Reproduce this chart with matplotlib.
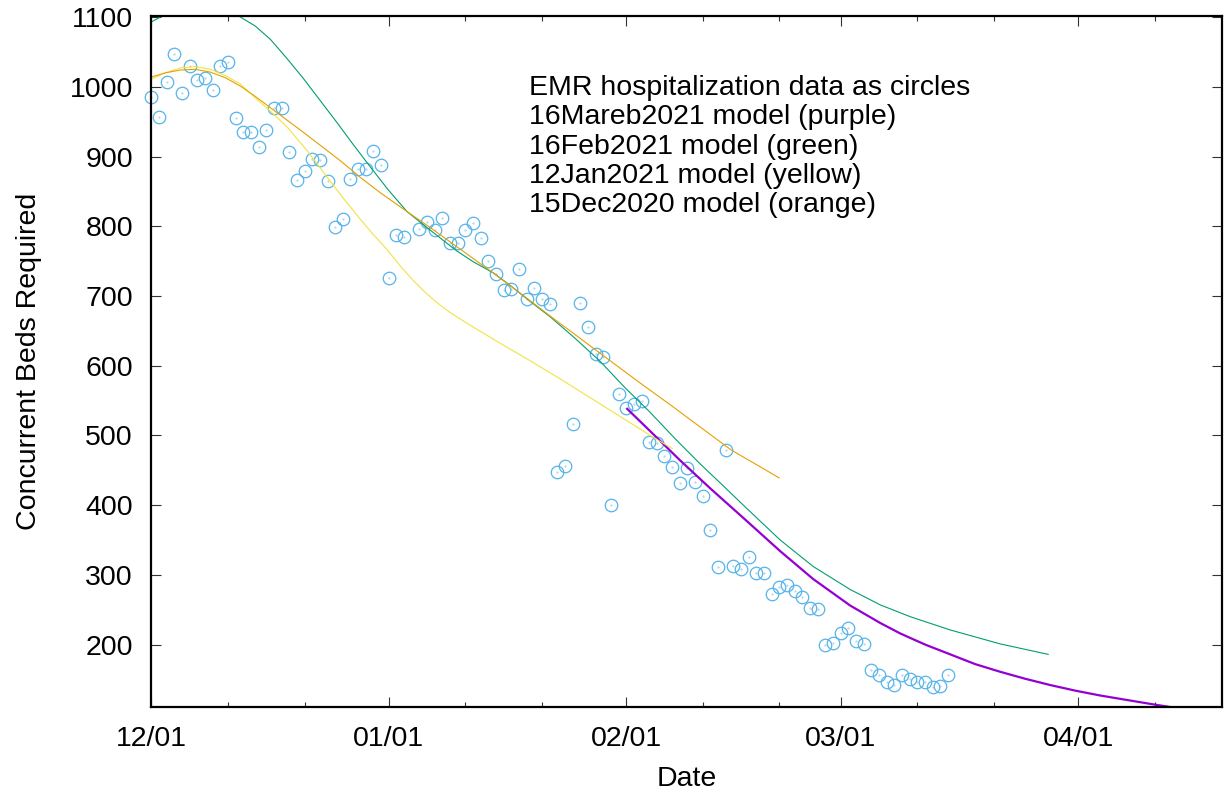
import numpy as np
import matplotlib
matplotlib.use('Agg')
import matplotlib.pyplot as plt
import matplotlib.dates as mdates

plt.rcParams['font.family'] = ['Liberation Sans', 'DejaVu Sans']

start = mdates.date2num(np.datetime64('2020-12-01'))

# EMR hospitalization, one value per day starting 12/01 (nan = no report)
hosp = [985, 956, 1007, 1047, 991, 1030, 1009, 1013, 996, 1030,
        1036, 955, 935, 935, 914, 938, 970, 969, 906, 866,
        879, 897, 895, 865, 799, 810, 868, 882, 882, 908,
        888, 726, 788, 785, np.nan, 796, 806, 794, 812, 776,
        776, 795, 805, 783, 750, 732, 708, 710, 738, 695,
        711, 696, 689, 448, 456, 516, 690, 656, 617, 613,
        400, 560, 539, 545, 550, 491, 489, 470, 455, 432,
        453, 433, 413, 365, 311, 479, 313, 309, 326, 303,
        302, 273, 283, 285, 277, 268, 252, 251, 200, 203,
        216, 224, 205, 201, 164, 156, 147, 142, 156, 151,
        146, 146, 139, 140, 156]

# model curves: days after 12/01 and beds
mar_day = [62.14, 65.14, 69.06, 72.98, 77.77, 82.11, 86.42, 91.25, 95.17, 97.78,
           101.04, 104.31, 107.57, 110.84, 114.10, 117.36, 120.63, 123.89, 127.15, 130.42,
           133.29, 136.29]
mar_val = [538, 506, 464, 424, 377, 334, 294, 256, 231, 216,
           200, 186, 172, 161, 151, 142, 134, 127, 121, 115,
           110, 106]

feb_day = [0.0, 1.17, 3.79, 6.40, 9.01, 11.62, 13.58, 15.54, 17.75, 19.84,
           22.06, 24.28, 26.37, 28.59, 30.94, 33.38, 35.77, 37.73, 39.82, 42.04,
           44.65, 46.87, 49.48, 52.09, 55.35, 58.62, 61.88, 65.14, 68.41, 71.67,
           74.93, 77.77, 82.11, 86.42, 91.25, 95.17, 99.09, 104.31, 110.84, 117.10]
feb_val = [1093, 1100, 1115, 1122, 1118, 1100, 1087, 1068, 1040, 1012,
           980, 948, 917, 885, 852, 821, 800, 783, 765, 749,
           733, 715, 692, 670, 639, 606, 568, 533, 495, 459,
           425, 395, 350, 312, 279, 257, 240, 221, 201, 186]

jan_day = [0.0, 1.83, 3.79, 5.74, 7.70, 9.66, 11.62, 13.58, 15.54, 17.75,
           20.37, 22.98, 25.07, 27.28, 28.98, 30.81, 32.51, 34.20, 35.77, 37.34,
           39.03, 41.64, 45.56, 49.48, 53.39, 58.62, 62.53, 65.14, 68.02]
jan_val = [1011, 1020, 1027, 1029, 1025, 1016, 1004, 984, 965, 942,
           908, 870, 840, 810, 788, 766, 743, 722, 705, 690,
           676, 658, 632, 607, 581, 545, 518, 500, 481]

dec_day = [0.0, 1.83, 3.79, 5.74, 7.70, 9.66, 11.62, 13.58, 15.54, 17.49,
           19.45, 22.06, 24.67, 27.28, 29.90, 33.38, 36.42, 40.34, 44.26, 48.17,
           52.09, 56.01, 59.92, 63.84, 67.75, 71.67, 75.72, 79.50, 81.98]
dec_val = [1014, 1020, 1024, 1025, 1021, 1013, 1001, 986, 970, 954,
           938, 916, 894, 870, 848, 821, 798, 767, 736, 704,
           671, 639, 607, 575, 544, 512, 479, 455, 439]

notes = ['EMR hospitalization data as circles',
         '16Mareb2021 model (purple)',
         '16Feb2021 model (green)',
         '12Jan2021 model (yellow)',
         '15Dec2020 model (orange)']

fig = plt.figure(figsize=(12.25, 7.94), dpi=100)
ax = fig.add_axes([151/1225, 1 - 707/794, 1071/1225, 691/794])

x_hosp = start + np.arange(len(hosp))
ax.plot(x_hosp, hosp, 'o', mfc='none', mec='#56b4e9', ms=9, mew=0.9, clip_on=False)
ax.plot(x_hosp, hosp, '.', color='#56b4e9', ms=0.8, alpha=0.7, clip_on=False)

ax.plot(start + np.array(mar_day), mar_val, color='#9400d3', lw=1.6)
ax.plot(start + np.array(feb_day), feb_val, color='#009e73', lw=0.8)
ax.plot(start + np.array(jan_day), jan_val, color='#f0e442', lw=0.8)
ax.plot(start + np.array(dec_day), dec_val, color='#e69f00', lw=0.8)

ax.set_xlim(start - 0.05, start + 139.8)
ax.set_ylim(110.5, 1101.5)
ax.set_yticks(np.arange(200, 1101, 100))
ax.xaxis.set_major_locator(mdates.MonthLocator())
ax.xaxis.set_minor_locator(mdates.DayLocator(bymonthday=[11, 21]))
ax.xaxis.set_major_formatter(mdates.DateFormatter('%m/%d'))

ax.tick_params(which='both', direction='in', top=True, right=True,
               labelsize=20.5, width=0.8, color='#333333')
ax.tick_params(which='major', length=7)
ax.tick_params(which='minor', length=3.5)
ax.tick_params(axis='x', pad=14)
ax.tick_params(axis='y', pad=13)
for s in ax.spines.values():
    s.set_linewidth(1.6)

ax.set_xlabel('Date', fontsize=20.5, labelpad=10)
ax.set_ylabel('Concurrent Beds Required', fontsize=20.5, labelpad=20)

for i, line in enumerate(notes):
    ax.text(0.3532, 0.885 - i * 0.042, line, transform=ax.transAxes,
            fontsize=20.5, va='baseline', ha='left')

fig.savefig('out.png', dpi=100)
